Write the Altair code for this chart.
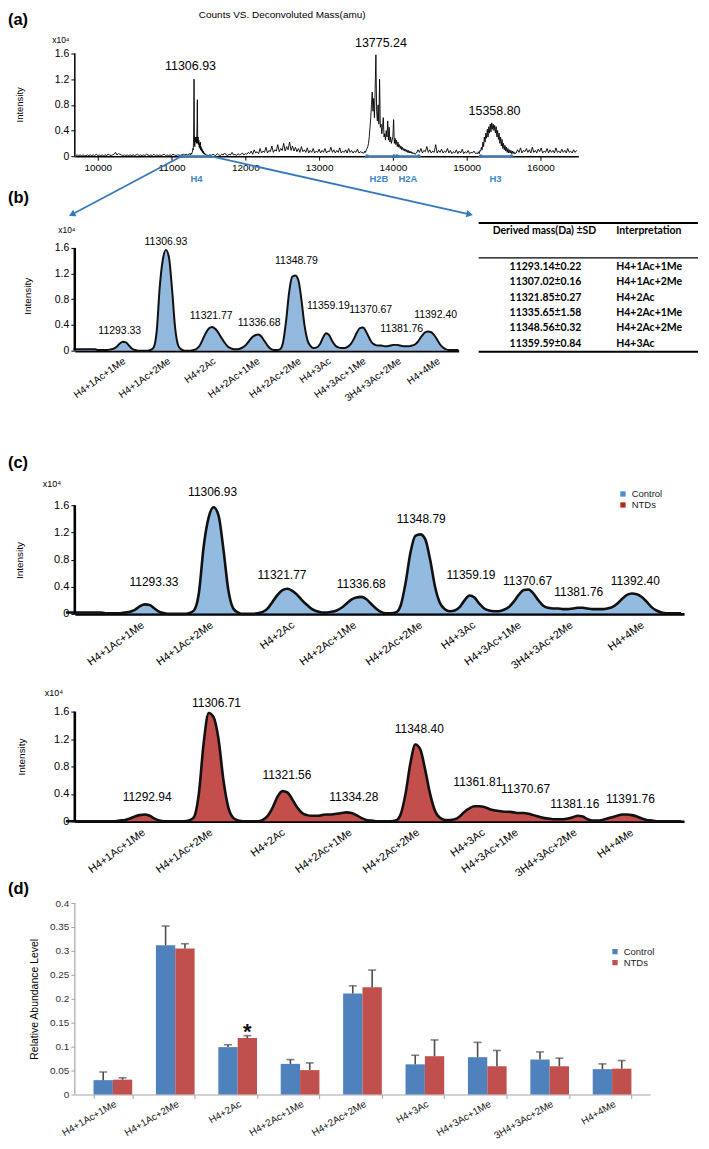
import altair as alt
import pandas as pd

NARROW = "'Liberation Sans Narrow', 'Arial Narrow', 'Liberation Sans', Arial, sans-serif"
SANS = "'Liberation Sans', Arial, sans-serif"
TFONT = "Lato, 'Open Sans', sans-serif"
BLUE = "#3679ba"
BLUE_TXT = "#3d87c6"

# ---------------- shared categories ----------------
cats = ['H4+1Ac+1Me', 'H4+1Ac+2Me', 'H4+2Ac', 'H4+2Ac+1Me', 'H4+2Ac+2Me',
        'H4+3Ac', 'H4+3Ac+1Me', '3H4+3Ac+2Me', 'H4+4Me']
y_ticks_int = [0, 0.4, 0.8, 1.2, 1.6]
CAT_ANGLE = -36
D_ANGLE = -30

# ---------------- (a) survey spectrum (x10^4 counts) ----------------
a_seg_start = [9700, 11250, 11520, 13610, 14320, 15150, 15670]
a_seg_step = [20, 5, 20, 10, 20, 10, 20]
segA = [0.01, 0.02, 0.01, 0.02, 0.01, 0.02, 0.01, 0.01, 0.02, 0.01,
        0.02, 0.01, 0.02, 0.01, 0.03, 0.01, 0.02, 0.01, 0.02, 0.01,
        0.02, 0.01, 0.03, 0.02, 0.01, 0.02, 0.03, 0.06, 0.02, 0.04,
        0.03, 0.02, 0.01, 0.02, 0.01, 0.02, 0.01, 0.02, 0.01, 0.02,
        0.01, 0.02, 0.03, 0.01, 0.02, 0.01, 0.02, 0.01, 0.03, 0.02,
        0.01, 0.02, 0.01, 0.03, 0.01, 0.02, 0.01, 0.02, 0.01, 0.02,
        0.03, 0.01, 0.02, 0.01, 0.02, 0.01, 0.03, 0.02, 0.01, 0.02,
        0.02, 0.01, 0.02, 0.03, 0.02, 0.03, 0.02, 0.04]
segH4 = [0.03, 0.02, 0.04, 0.03, 0.05, 0.04, 0.06, 0.08, 0.12, 0.1,
         0.35, 1.2, 0.3, 0.15, 0.3, 0.22, 0.25, 0.3, 0.2, 0.45,
         0.88, 0.2, 0.3, 0.18, 0.25, 0.14, 0.2, 0.12, 0.22, 0.1,
         0.15, 0.08, 0.12, 0.07, 0.1, 0.05, 0.08, 0.04, 0.06, 0.03,
         0.05, 0.03, 0.02, 0.03, 0.02, 0.02, 0.01, 0.02, 0.01, 0.02, 0.01]
segB = [0.02, 0.01, 0.03, 0.02, 0.01, 0.04, 0.02, 0.01, 0.03, 0.02,
        0.05, 0.02, 0.01, 0.03, 0.02, 0.06, 0.02, 0.03, 0.01, 0.04,
        0.02, 0.03, 0.05, 0.02, 0.04,
        0.03, 0.06, 0.04, 0.08, 0.03, 0.1, 0.05, 0.07, 0.04, 0.12,
        0.05, 0.08, 0.06, 0.14, 0.05, 0.09, 0.07, 0.16, 0.06, 0.1,
        0.08, 0.18, 0.07, 0.12, 0.09, 0.2, 0.08, 0.15, 0.1, 0.22,
        0.09, 0.16, 0.08, 0.14, 0.07, 0.12, 0.06, 0.15, 0.07, 0.1,
        0.06, 0.13, 0.05, 0.09, 0.06, 0.12, 0.05, 0.08, 0.06, 0.11,
        0.05, 0.09, 0.06, 0.12, 0.05, 0.08, 0.07, 0.14, 0.06, 0.1,
        0.05, 0.09, 0.06, 0.13, 0.05, 0.08, 0.06, 0.1, 0.05, 0.12,
        0.06, 0.09, 0.05, 0.08, 0.06, 0.11, 0.05, 0.07, 0.06, 0.05]
segH2 = [0.05, 0.08, 0.06, 0.1, 0.12, 0.15, 0.2, 0.3, 0.45, 0.6,
         0.8, 1.0, 0.7, 0.9, 0.6, 1.05, 1.58, 0.7, 0.55, 0.8,
         0.5, 1.2, 0.45, 0.5, 0.35, 0.45, 0.6, 0.3, 0.35, 0.25,
         0.4, 0.3, 0.55, 0.25, 0.45, 0.22, 0.3, 0.2, 0.25, 0.3,
         0.57, 0.2, 0.28, 0.18, 0.25, 0.15, 0.22, 0.14, 0.18, 0.12,
         0.16, 0.1, 0.14, 0.09, 0.12, 0.08, 0.11, 0.07, 0.1, 0.06,
         0.09, 0.05, 0.08, 0.05, 0.07, 0.04, 0.06, 0.04, 0.05, 0.03]
segC = [0.05, 0.1, 0.06, 0.12, 0.05, 0.09, 0.07, 0.15, 0.06, 0.1,
        0.05, 0.08, 0.06, 0.18, 0.05, 0.09, 0.06, 0.11, 0.05, 0.08,
        0.06, 0.12, 0.05, 0.09, 0.04, 0.07, 0.05, 0.1, 0.04, 0.08,
        0.05, 0.11, 0.04, 0.07, 0.05, 0.09, 0.04, 0.06, 0.05, 0.08,
        0.04, 0.05]
segH3 = [0.04, 0.07, 0.04, 0.09, 0.08, 0.14, 0.1, 0.22, 0.15, 0.3,
         0.22, 0.36, 0.28, 0.42, 0.3, 0.46, 0.36, 0.5, 0.38, 0.52,
         0.42, 0.5, 0.4, 0.48, 0.36, 0.46, 0.3, 0.4, 0.26, 0.36,
         0.2, 0.3, 0.16, 0.26, 0.12, 0.2, 0.1, 0.17, 0.08, 0.14,
         0.06, 0.12, 0.05, 0.1, 0.05, 0.09, 0.04, 0.08, 0.04, 0.07, 0.04]
segD = [0.05, 0.1, 0.06, 0.13, 0.05, 0.09, 0.07, 0.12, 0.06, 0.1,
        0.05, 0.14, 0.06, 0.09, 0.05, 0.11, 0.07, 0.13, 0.05, 0.08,
        0.06, 0.12, 0.05, 0.1, 0.06, 0.09, 0.05, 0.13, 0.06, 0.08,
        0.05, 0.11, 0.06, 0.09, 0.05, 0.12, 0.06, 0.08, 0.05, 0.1,
        0.06, 0.09]
a_seg_vals = [segA, segH4, segB, segH2, segC, segH3, segD]

a_peak_names = ['11306.93', '13775.24', '15358.80']
a_peak_x = [11257, 13838, 15378]
a_peak_y = [1.40, 1.77, 0.70]
a_xticks = [10000, 11000, 12000, 13000, 14000, 15000, 16000]

a_hist = ['H4', 'H2B', 'H2A', 'H3']
a_hist_lo = [11135, 13649, 14054, 15189]
a_hist_hi = [11527, 14014, 14351, 15608]
a_hist_lab = [11338, 13811, 14203, 15392]

a_arrow_from = [11135, 11527]
a_arrow_to = [9662, 15027]
a_arrow_depth = [-0.901, -0.901]
a_arrow_angle = [242.8, 102.2]

# ---------------- (b)/(c) zoomed H4 spectra ----------------
h4_mass = list(range(11277, 11403))
ctrl_int = [0.02, 0.02, 0.02, 0.02, 0.02, 0.02, 0.02, 0.02, 0.01, 0.01,
            0.01, 0.01, 0.02, 0.03, 0.06, 0.11, 0.14, 0.13, 0.08, 0.03,
            0.01, 0.0, 0.0, 0.0, 0.0, 0.01, 0.05, 0.3, 1.0, 1.42,
            1.57, 1.45, 0.95, 0.35, 0.08, 0.02, 0.0, 0.0, 0.0, 0.01,
            0.03, 0.08, 0.18, 0.28, 0.35, 0.37, 0.34, 0.28, 0.2, 0.13,
            0.07, 0.04, 0.02, 0.02, 0.03, 0.05, 0.09, 0.15, 0.21, 0.24,
            0.25, 0.22, 0.15, 0.08, 0.03, 0.01, 0.01, 0.02, 0.12, 0.45,
            0.9, 1.15, 1.17, 1.1, 0.8, 0.4, 0.16, 0.07, 0.04, 0.05,
            0.1, 0.2, 0.27, 0.24, 0.15, 0.08, 0.05, 0.04, 0.04, 0.06,
            0.1, 0.18, 0.28, 0.35, 0.36, 0.3, 0.2, 0.12, 0.09, 0.08,
            0.08, 0.07, 0.07, 0.08, 0.09, 0.09, 0.08, 0.07, 0.07, 0.07,
            0.08, 0.1, 0.15, 0.22, 0.28, 0.3, 0.29, 0.25, 0.18, 0.1,
            0.05, 0.02, 0.01, 0.01, 0.01, 0.01]
ntd_int = [0.0, 0.0, 0.0, 0.0, 0.0, 0.0, 0.0, 0.0, 0.0, 0.0,
           0.0, 0.01, 0.02, 0.04, 0.07, 0.09, 0.1, 0.08, 0.04, 0.01,
           0.0, 0.0, 0.0, 0.0, 0.0, 0.01, 0.06, 0.4, 1.15, 1.58,
           1.52, 1.2, 0.6, 0.2, 0.05, 0.01, 0.0, 0.0, 0.0, 0.0,
           0.02, 0.08, 0.2, 0.36, 0.44, 0.42, 0.32, 0.2, 0.12, 0.09,
           0.08, 0.08, 0.09, 0.1, 0.1, 0.11, 0.12, 0.13, 0.12, 0.09,
           0.05, 0.02, 0.01, 0.0, 0.0, 0.0, 0.0, 0.01, 0.1, 0.4,
           0.85, 1.12, 1.05, 0.75, 0.4, 0.15, 0.05, 0.02, 0.02, 0.03,
           0.07, 0.14, 0.19, 0.22, 0.22, 0.21, 0.18, 0.16, 0.15, 0.14,
           0.14, 0.13, 0.12, 0.12, 0.11, 0.09, 0.07, 0.05, 0.04, 0.03,
           0.03, 0.03, 0.04, 0.06, 0.08, 0.07, 0.03, 0.01, 0.01, 0.02,
           0.04, 0.06, 0.08, 0.1, 0.1, 0.09, 0.07, 0.04, 0.02, 0.01,
           0.0, 0.0, 0.0, 0.0, 0.0, 0.0]

ctrl_peaks = ['11293.33', '11306.93', '11321.77', '11336.68', '11348.79',
              '11359.19', '11370.67', '11381.76', '11392.40']
ntd_peaks = ['11292.94', '11306.71', '11321.56', '11334.28', '11348.40',
             '11361.81', '11370.67', '11381.16', '11391.76']

b_lab_x = [11292.0, 11307.0, 11321.7, 11337.3, 11349.4, 11359.8, 11373.5, 11383.6, 11394.6]
b_lab_y = [0.31, 1.69, 0.54, 0.43, 1.40, 0.70, 0.64, 0.33, 0.56]
b_tick_x = [11292.4, 11307.0, 11321.7, 11336.0, 11349.4, 11359.1, 11370.5, 11381.9, 11394.6]

c1_lab_x = [11294.9, 11306.8, 11320.9, 11337.0, 11349.2, 11359.3, 11370.8, 11381.2, 11392.7]
c1_lab_y = [0.47, 1.79, 0.57, 0.44, 1.39, 0.57, 0.48, 0.32, 0.48]
c1_tick_x = [11291.9, 11305.9, 11322.4, 11335.0, 11348.4, 11359.2, 11368.5, 11379.0, 11393.5]

c2_lab_x = [11293.5, 11307.6, 11321.9, 11335.5, 11348.8, 11360.7, 11370.4, 11380.4, 11391.7]
c2_lab_y = [0.35, 1.73, 0.68, 0.36, 1.34, 0.57, 0.47, 0.25, 0.32]
c2_tick_x = [11292.1, 11305.8, 11320.5, 11334.1, 11347.8, 11361.1, 11367.9, 11379.8, 11391.3]

tab_mass = ['11293.14±0.22', '11307.02±0.16', '11321.85±0.27',
            '11335.65±1.58', '11348.56±0.32', '11359.59±0.84']
tab_interp = ['H4+1Ac+1Me', 'H4+1Ac+2Me', 'H4+2Ac', 'H4+2Ac+1Me', 'H4+2Ac+2Me', 'H4+3Ac']

# ---------------- (d) relative abundance ----------------
groups = ['Control', 'NTDs']
ctrl_val = [0.030, 0.312, 0.099, 0.064, 0.211, 0.063, 0.078, 0.073, 0.053]
ctrl_sd = [0.017, 0.040, 0.005, 0.009, 0.016, 0.019, 0.031, 0.016, 0.011]
ntd_val = [0.031, 0.305, 0.118, 0.051, 0.224, 0.080, 0.059, 0.059, 0.054]
ntd_sd = [0.004, 0.010, 0.005, 0.015, 0.036, 0.034, 0.033, 0.017, 0.017]
d_y_ticks = [0, 0.05, 0.1, 0.15, 0.2, 0.25, 0.3, 0.35, 0.4]
star_cat, star_group, star_y = 'H4+2Ac', 'NTDs', 0.130


# ---------------- helpers ----------------
def note(txt, x, y, size=10, weight='normal', align='center', baseline='middle',
         font=SANS, color='black'):
    return alt.Chart(pd.DataFrame({'t': [txt]})).mark_text(
        fontSize=size, fontWeight=weight, align=align, baseline=baseline,
        font=font, color=color).encode(x=alt.value(x), y=alt.value(y), text='t:N')


def hline(x1, x2, y, w, color='black'):
    return alt.Chart(pd.DataFrame({'k': [0]})).mark_rule(
        color=color, strokeWidth=w).encode(x=alt.value(x1), x2=alt.value(x2), y=alt.value(y))


def label_expr(values, names):
    expr = "''"
    for v, n in reversed(list(zip(values, names))):
        expr = f"abs(datum.value - {v}) < 0.01 ? '{n}' : ({expr})"
    return expr


# ---------------- panel (a) ----------------
rows = []
for s, st, vals in zip(a_seg_start, a_seg_step, a_seg_vals):
    for i, v in enumerate(vals):
        rows.append({'mass': s + st * i, 'inten': v})
a_df = pd.DataFrame(rows)

A_W, A_H = 505, 147
A_YMAX = 2.2835
xs_a = alt.Scale(domain=[9689, 16514], nice=False, zero=False)
ys_a = alt.Scale(domain=[0, A_YMAX], nice=False, zero=False)
ax_a = alt.Axis(values=a_xticks, format='d', labelFont=SANS, labelFontSize=10,
                labelColor='black', labelFlush=False, labelOverlap=False,
                tickColor='black', tickSize=4, domainColor='black', domainWidth=1.5,
                grid=False, title=None, labelPadding=2)
ay_a = alt.Axis(values=y_ticks_int, format='~g', labelFont=SANS, labelFontSize=10.5,
                labelColor='black', tickColor='black', tickSize=4, domain=False,
                grid=False, title='Intensity', titleFont=SANS, titleFontSize=9.5,
                titleFontWeight='normal', titleX=-55, titleY=95, titleAngle=270,
                titleBaseline='middle', titleAlign='center')


def XA(f):
    return alt.X(f, scale=xs_a, axis=ax_a)


def YA(f):
    return alt.Y(f, scale=ys_a, axis=ay_a)


hist_df = pd.DataFrame({'name': a_hist, 'lo': a_hist_lo, 'hi': a_hist_hi,
                        'lab': a_hist_lab, 'zero': 0.0})
hist_pts = pd.DataFrame({'m': a_hist_lo + a_hist_hi, 'zero': 0.0})
arrow_df = pd.DataFrame({'m0': a_arrow_from, 'i0': [0.0, 0.0], 'm1': a_arrow_to,
                         'i1': a_arrow_depth, 'ang': a_arrow_angle})

a_line = alt.Chart(a_df).mark_line(color='black', strokeWidth=0.9).encode(
    x=XA('mass:Q'), y=YA('inten:Q'))
a_yrule = alt.Chart(pd.DataFrame({'y0': [0.0], 'y1': [1.6]})).mark_rule(
    color='black', strokeWidth=1.5).encode(x=alt.value(0), y=YA('y0:Q'), y2='y1:Q')
a_peaks = alt.Chart(pd.DataFrame({'mass': a_peak_x, 'inten': a_peak_y, 't': a_peak_names})
                    ).mark_text(font=NARROW, fontSize=12.5).encode(
    x=XA('mass:Q'), y=YA('inten:Q'), text='t:N')
a_brk = alt.Chart(hist_df).mark_rule(color=BLUE, strokeWidth=2).encode(
    x=XA('lo:Q'), x2='hi:Q', y=YA('zero:Q'))
a_brk_pts = alt.Chart(hist_pts).mark_point(filled=True, size=14, color=BLUE, opacity=1).encode(
    x=XA('m:Q'), y=YA('zero:Q'))
a_hist_txt = alt.Chart(hist_df).mark_text(color=BLUE_TXT, fontWeight='bold', fontSize=9.5,
                                          font=SANS).encode(
    x=XA('lab:Q'), y=alt.value(A_H + 23), text='name:N')
a_arrows = alt.Chart(arrow_df).mark_rule(color=BLUE, strokeWidth=1.8).encode(
    x=XA('m0:Q'), x2='m1:Q', y=YA('i0:Q'), y2='i1:Q')
a_heads = alt.Chart(arrow_df).mark_point(shape='triangle', filled=True, size=55,
                                         color=BLUE, opacity=1).encode(
    x=XA('m1:Q'), y=YA('i1:Q'), angle=alt.Angle('ang:Q', scale=None))

panel_a = alt.layer(
    a_line, a_yrule, a_brk, a_brk_pts, a_arrows, a_heads, a_peaks, a_hist_txt,
    note('Counts VS. Deconvoluted Mass(amu)', 208, 0, size=10, baseline='top', font=NARROW),
    note('(a)', -67, 10, size=16.5, weight='bold', align='left'),
    note('x10⁴', -14, 30, size=8.5),
).properties(width=A_W, height=A_H)


# ---------------- spectrum panels (b), (c) ----------------
def spec_layers(intens, dom, ymax, lab_x, lab_y, lab_txt, tick_x,
                lab_fs, tick_fs, cat_fs, line_w, axis_w, tx, ty, fill=None, legend=None):
    xs = alt.Scale(domain=dom, nice=False, zero=False)
    ys = alt.Scale(domain=[0, ymax], nice=False, zero=False)
    xax = alt.Axis(values=tick_x, labelExpr=label_expr(tick_x, cats), labelAngle=CAT_ANGLE,
                   labelAlign='right', labelBaseline='top', labelFont=SANS,
                   labelFontSize=cat_fs, labelColor='black', labelPadding=5,
                   labelOverlap=False, labelFlush=False, ticks=False,
                   domainColor='black', domainWidth=axis_w, grid=False, title=None)
    yax = alt.Axis(values=y_ticks_int, format='~g', labelFont=SANS, labelFontSize=tick_fs,
                   labelColor='black', tickColor='black', tickSize=4, domain=False,
                   grid=False, title='Intensity', titleFont=SANS, titleFontSize=10,
                   titleFontWeight='normal', titleX=tx, titleY=ty, titleAngle=270,
                   titleBaseline='middle', titleAlign='center')

    def X(f):
        return alt.X(f, scale=xs, axis=xax)

    def Y(f):
        return alt.Y(f, scale=ys, axis=yax)

    cdf = pd.DataFrame({'mass': h4_mass, 'inten': intens, 'grp': 'Control'})
    if legend is not None:
        area = alt.Chart(cdf).mark_area(interpolate='monotone', fillOpacity=0.6).encode(
            x=X('mass:Q'), y=Y('inten:Q'),
            color=alt.Color('grp:N', scale=alt.Scale(domain=groups,
                                                     range=['#4b8dca', '#b3261e']),
                            legend=legend))
    else:
        area = alt.Chart(cdf).mark_area(interpolate='monotone', color=fill).encode(
            x=X('mass:Q'), y=Y('inten:Q'))
    line = alt.Chart(cdf).mark_line(interpolate='monotone', color='#111111',
                                    strokeWidth=line_w).encode(x=X('mass:Q'), y=Y('inten:Q'))
    yrule = alt.Chart(pd.DataFrame({'y0': [0.0], 'y1': [1.6]})).mark_rule(
        color='black', strokeWidth=axis_w).encode(x=alt.value(0), y=Y('y0:Q'), y2='y1:Q')
    labs = alt.Chart(pd.DataFrame({'mass': lab_x, 'inten': lab_y, 't': lab_txt})).mark_text(
        font=NARROW, fontSize=lab_fs, baseline='middle').encode(
        x=X('mass:Q'), y=Y('inten:Q'), text='t:N')
    return [area, line, yrule, labs]


# (b)
B_W, B_H = 385, 165
b_inner = alt.layer(*spec_layers(
    ctrl_int, [11277.4, 11402.1], 2.5631, b_lab_x, b_lab_y, ctrl_peaks, b_tick_x,
    10.5, 10.5, 10, 2.0, 2.5, -47, 110, fill='#93b8dd'),
    note('(b)', -67, 12, size=16.5, weight='bold', align='left'),
    note('x10⁴', -8, 44, size=8.5))

tab_df = pd.DataFrame({'row': list(range(len(tab_mass))), 'm': tab_mass, 'it': tab_interp})
ty_scale = alt.Scale(domain=[0, 5], range=[81, 158])
tab_col1 = alt.Chart(tab_df).mark_text(font=TFONT, fontSize=10.5, fontWeight='bold',
                                       align='center', baseline='middle').encode(
    x=alt.value(472), y=alt.Y('row:Q', scale=ty_scale, axis=None), text='m:N')
tab_col2 = alt.Chart(tab_df).mark_text(font=TFONT, fontSize=10.5, fontWeight='bold',
                                       align='left', baseline='middle').encode(
    x=alt.value(543), y=alt.Y('row:Q', scale=ty_scale, axis=None), text='it:N')

panel_b = alt.layer(
    b_inner, tab_col1, tab_col2,
    hline(405, 625, 37, 2), hline(405, 625, 72, 1.2), hline(405, 625, 166, 2),
    note('Derived mass(Da) ±SD', 471, 45, size=10.5, weight='bold', font=TFONT),
    note('Interpretation', 543, 45, size=10.5, weight='bold', font=TFONT, align='left'),
).resolve_scale(y='independent').properties(width=B_W, height=B_H)

# (c) control
C_W = 611
c_leg = alt.Legend(orient='none', legendX=545, legendY=109, title=None, symbolType='square',
                   symbolSize=28, symbolOpacity=1, labelFont=SANS, labelFontSize=9.5,
                   labelColor='#222222', rowPadding=0, padding=0, symbolStrokeWidth=0)
panel_c1 = alt.layer(*spec_layers(
    ctrl_int, [11278.8, 11402.6], 3.4349, c1_lab_x, c1_lab_y, ctrl_peaks, c1_tick_x,
    12, 11, 11, 2.6, 2.6, -55, 180, legend=c_leg),
    note('(c)', -67, 83, size=16.5, weight='bold', align='left'),
    note('x10⁴', -23, 104, size=9),
).properties(width=C_W, height=234)

# (c) NTDs
panel_c2 = alt.layer(*spec_layers(
    ntd_int, [11278.8, 11402.6], 2.5891, c2_lab_x, c2_lab_y, ntd_peaks, c2_tick_x,
    12, 11, 11, 2.6, 2.6, -53, 113, fill='#c24f4c'),
    note('x10⁴', -21, 49, size=9),
).properties(width=C_W, height=178)

# ---------------- panel (d) ----------------
D_W, D_H = 577, 244
D_YMAX = 244 / 480
d_df = pd.DataFrame({'cat': cats * 2, 'group': ['Control'] * 9 + ['NTDs'] * 9,
                     'val': ctrl_val + ntd_val, 'sd': ctrl_sd + ntd_sd})
xd = alt.X('cat:N', sort=cats,
           scale=alt.Scale(domain=cats, paddingInner=0.38, paddingOuter=0.3),
           axis=alt.Axis(labelAngle=D_ANGLE, labelAlign='right', labelBaseline='top',
                         tickBand='extent', tickColor='#a6a6a6', domainColor='#a6a6a6',
                         tickSize=4, labelFontSize=10, labelFont=SANS, labelColor='#222222',
                         title=None, labelPadding=0, grid=False))
xo = alt.XOffset('group:N', scale=alt.Scale(domain=groups, paddingInner=0, paddingOuter=0))
ys_d = alt.Scale(domain=[0, D_YMAX], nice=False, zero=False)
ay_d = alt.Axis(values=d_y_ticks, format='~g', labelFont=SANS, labelFontSize=10,
                labelColor='#333333', tickColor='#a6a6a6', tickSize=4, domain=False,
                grid=False, title='Relative Abundance Level', titleFont=SANS,
                titleFontSize=10.5, titleFontWeight='normal', titleX=-40, titleY=148,
                titleAngle=270, titleBaseline='middle', titleAlign='center')


def YD(f):
    return alt.Y(f, scale=ys_d, axis=ay_d)


d_leg = alt.Legend(orient='none', legendX=537, legendY=96, title=None, symbolType='square',
                   symbolSize=28, symbolOpacity=1, labelFont=SANS, labelFontSize=9.5,
                   labelColor='#222222', rowPadding=0, padding=0, symbolStrokeWidth=0)
d_bars = alt.Chart(d_df).mark_bar().encode(
    x=xd, xOffset=xo, y=YD('val:Q'),
    color=alt.Color('group:N', scale=alt.Scale(domain=groups, range=['#4f81bd', '#c0504d']),
                    legend=d_leg))
d_err = alt.Chart(d_df).transform_calculate(hi='datum.val + datum.sd').mark_rule(
    color='#4d4d4d', strokeWidth=1.6).encode(x=xd, xOffset=xo, y=YD('val:Q'), y2='hi:Q')
d_cap = alt.Chart(d_df).transform_calculate(hi='datum.val + datum.sd').mark_tick(
    color='#4d4d4d', thickness=1.6, size=8).encode(x=xd, xOffset=xo, y=YD('hi:Q'))
d_yrule = alt.Chart(pd.DataFrame({'y0': [0.0], 'y1': [0.4]})).mark_rule(
    color='#a6a6a6', strokeWidth=1.2).encode(x=alt.value(0), y=YD('y0:Q'), y2='y1:Q')
d_star = alt.Chart(pd.DataFrame({'cat': [star_cat], 'group': [star_group], 'y': [star_y],
                                 't': ['*']})).mark_text(
    fontSize=22, fontWeight='bold', font=SANS, baseline='middle', color='#111111').encode(
    x=xd, xOffset=xo, y=YD('y:Q'), text='t:N')

panel_d = alt.layer(
    d_bars, d_err, d_cap, d_yrule, d_star,
    note('(d)', -67, 38, size=16.5, weight='bold', align='left'),
).properties(width=D_W, height=D_H)

chart = alt.vconcat(
    panel_a, panel_b, panel_c1, panel_c2, panel_d, spacing=30, bounds='flush'
).resolve_scale(
    x='independent', y='independent', color='independent'
).properties(
    padding={'left': 0, 'top': 0, 'right': 2, 'bottom': 2}
).configure_view(stroke=None)

chart.save('out.html', embed_options={'renderer': 'svg', 'actions': False})
